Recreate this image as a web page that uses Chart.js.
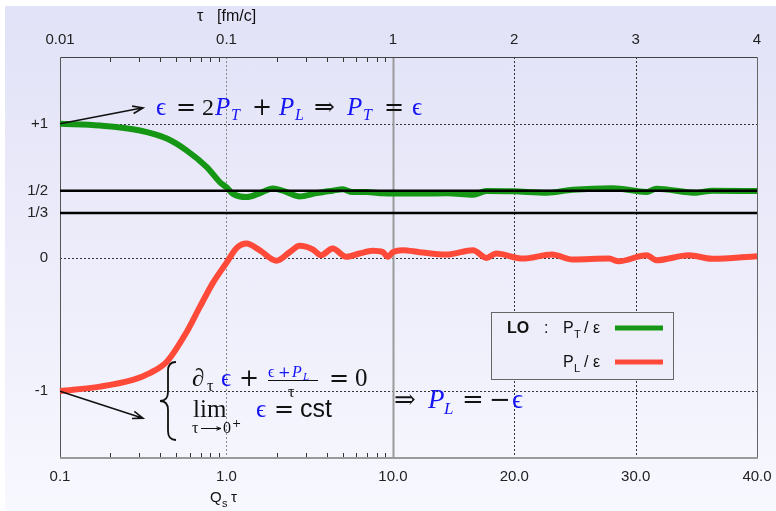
<!DOCTYPE html>
<html>
<head>
<meta charset="utf-8">
<script src="https://cdn.jsdelivr.net/npm/chart.js@4.4.1/dist/chart.umd.min.js"></script>
<style>
  html, body { margin: 0; padding: 0; background: #fff; }
  #wrap { position: relative; width: 776px; height: 511px; overflow: hidden; }
  #panel {
    position: absolute; left: 5px; top: 6px; right: 0; bottom: 0;
    background: linear-gradient(to bottom, #e2e2f8 0%, #ebebfa 45%, #f8f8ff 100%);
  }
  canvas { position: absolute; left: 0; top: 0; }
</style>
</head>
<body>
<div id="wrap">
  <div id="panel"></div>
  <canvas id="pressureChart" width="776" height="511"></canvas>
</div>
<script>
// --- DATA ---
// Q_s tau sample points and the pressure / energy ratios along each curve
const QT_TRANSVERSE = [0.1, 0.174, 0.302, 0.438, 0.578, 0.762, 0.912, 1.0, 1.09, 1.32, 1.58, 1.9, 2.3, 2.75, 3.47, 4.34, 5.0, 5.7, 6.9, 8.7, 10.0, 12.2, 14.5, 16.6, 17.7, 19.9, 22.7, 24.8, 28.1, 30.9, 31.7, 35.0, 36.3, 40.0];
const PT_OVER_E = [1.0, 0.987, 0.95, 0.89, 0.80, 0.676, 0.564, 0.525, 0.478, 0.452, 0.48, 0.517, 0.49, 0.457, 0.482, 0.50, 0.51, 0.49, 0.49, 0.48, 0.478, 0.478, 0.48, 0.47, 0.497, 0.495, 0.485, 0.507, 0.519, 0.49, 0.515, 0.485, 0.50, 0.497];

const QT_LONGITUDINAL = [0.1, 0.174, 0.274, 0.346, 0.438, 0.578, 0.692, 0.829, 1.0, 1.15, 1.32, 1.58, 2.0, 2.41, 2.75, 3.3, 3.7, 4.34, 5.26, 6.3, 7.55, 8.7, 9.3, 10.0, 10.8, 12.2, 14.4, 16.6, 17.7, 18.5, 20.7, 23.1, 24.8, 27.8, 28.6, 30.9, 31.7, 34.4, 36.3, 40.0];
const PL_OVER_E = [-1.0, -0.966, -0.916, -0.865, -0.78, -0.555, -0.37, -0.19, -0.04, 0.07, 0.104, 0.055, -0.025, 0.042, 0.087, 0.06, 0.017, 0.067, 0.005, 0.03, 0.05, 0.04, 0.005, 0.04, 0.055, 0.04, 0.022, 0.055, -0.003, 0.03, -0.008, 0.022, -0.015, -0.008, -0.028, 0.017, -0.02, 0.017, -0.01, 0.01];

// free streaming (1/2) and ideal hydro (1/3) levels
const REF_LEVELS = [1 / 2, 1 / 3];

const X_MIN = 0.1;
const X_MAX = 40;
const X_TICKS = [0.1, 1, 10, 20, 30, 40];
const X_TICK_LABELS = ["0.1", "1.0", "10.0", "20.0", "30.0", "40.0"];
const TAU_TICK_LABELS = ["0.01", "0.1", "1", "2", "3", "4"];
const X_MINOR_TICKS = [0.2, 0.3, 0.4, 0.5, 0.6, 0.7, 0.8, 0.9, 2, 3, 4, 5, 6, 7, 8, 9];
const Y_TICKS = [-1, 0, 1 / 3, 1 / 2, 1];
const Y_TICK_LABELS = ["-1", "0", "1/3", "1/2", "+1"];

// --- STYLE ---
const GREEN = "#159615";
const RED = "#ff4a3a";
const BLUE = "#1414f4";
const INK = "#111";
const SERIF = '"Liberation Serif", "DejaVu Serif", serif';
const DV = '"DejaVu Serif", serif';
const SANS = '"Liberation Sans", Arial, sans-serif';

// --- SPLIT AXIS: log up to 10, linear from 10 to 40 ---
const LOG_END = 10;
const LIN_PER_DECADE = 0.729; // width of 10 linear units relative to one decade

function axisUnit(q) {
  if (q <= LOG_END) return Math.log10(q / X_MIN);
  return Math.log10(LOG_END / X_MIN) + ((q - LOG_END) / 10) * LIN_PER_DECADE;
}

function unitToValue(u) {
  const logSpan = Math.log10(LOG_END / X_MIN);
  if (u <= logSpan) return X_MIN * Math.pow(10, u);
  return LOG_END + ((u - logSpan) / LIN_PER_DECADE) * 10;
}

class SplitLogScale extends Chart.LinearScale {
  static id = "splitlog";
  static defaults = {};

  determineDataLimits() {
    this.min = X_MIN;
    this.max = X_MAX;
  }

  buildTicks() {
    return X_TICKS.map((value) => ({ value }));
  }

  getPixelForValue(value) {
    return this.getPixelForDecimal(axisUnit(value) / axisUnit(this.max));
  }

  getValueForPixel(pixel) {
    return unitToValue(this.getDecimalForPixel(pixel) * axisUnit(this.max));
  }
}
Chart.register(SplitLogScale);

// --- HELPERS ---
function toPoints(xs, ys) {
  return xs.map((x, i) => ({ x, y: ys[i] }));
}

function strokeLine(ctx, x1, y1, x2, y2, color, width, dash) {
  ctx.save();
  ctx.strokeStyle = color;
  ctx.lineWidth = width;
  ctx.setLineDash(dash || []);
  ctx.beginPath();
  ctx.moveTo(x1, y1);
  ctx.lineTo(x2, y2);
  ctx.stroke();
  ctx.restore();
}

function drawText(ctx, parts) {
  ctx.save();
  ctx.textAlign = "left";
  ctx.textBaseline = "alphabetic";
  parts.forEach(([t, x, y, size, color, family = SERIF, style = ""]) => {
    ctx.font = `${style} ${size}px ${family}`;
    ctx.fillStyle = color;
    ctx.fillText(t, x, y);
  });
  ctx.restore();
}

function drawArrow(ctx, x1, y1, x2, y2, head = 11, width = 1.6) {
  const ang = Math.atan2(y2 - y1, x2 - x1);
  ctx.save();
  ctx.strokeStyle = INK;
  ctx.lineWidth = width;
  ctx.beginPath();
  ctx.moveTo(x1, y1);
  ctx.lineTo(x2, y2);
  ctx.moveTo(x2 - head * Math.cos(ang - 0.35), y2 - head * Math.sin(ang - 0.35));
  ctx.lineTo(x2, y2);
  ctx.lineTo(x2 - head * Math.cos(ang + 0.35), y2 - head * Math.sin(ang + 0.35));
  ctx.stroke();
  ctx.restore();
}

function drawBrace(ctx, xTip, xSpine, xCusp, top, bottom) {
  const mid = (top + bottom) / 2;
  const r = 9;
  ctx.save();
  ctx.strokeStyle = INK;
  ctx.lineWidth = 1.8;
  ctx.beginPath();
  ctx.moveTo(xTip, top);
  ctx.quadraticCurveTo(xSpine, top, xSpine, top + r);
  ctx.lineTo(xSpine, mid - r);
  ctx.quadraticCurveTo(xSpine, mid, xCusp, mid);
  ctx.quadraticCurveTo(xSpine, mid, xSpine, mid + r);
  ctx.lineTo(xSpine, bottom - r);
  ctx.quadraticCurveTo(xSpine, bottom, xTip, bottom);
  ctx.stroke();
  ctx.restore();
}

// --- PLUGINS ---
const frameAndGrid = {
  id: "frameAndGrid",
  beforeDatasetsDraw(chart) {
    const { ctx, chartArea: a, scales } = chart;
    const x = scales.x;
    const y = scales.y;

    // horizontal dotted grid on the numeric y ticks
    Y_TICKS.filter((v) => !REF_LEVELS.includes(v)).forEach((v) => {
      const py = Math.round(y.getPixelForValue(v)) + 0.5;
      strokeLine(ctx, a.left, py, a.right, py, "#333", 1, [2, 2]);
    });

    // vertical grid: 1.0 light, 10.0 marks the log/linear join, 20 and 30 dark
    X_TICKS.slice(1, -1).forEach((q) => {
      const px = Math.round(x.getPixelForValue(q)) + 0.5;
      if (q === 1) strokeLine(ctx, px, a.top, px, a.bottom, "#8a8a8a", 1, [2, 2]);
      else if (q === LOG_END) strokeLine(ctx, px, a.top, px, a.bottom, "#9a9a9a", 2);
      else strokeLine(ctx, px, a.top, px, a.bottom, "#333", 1, [2, 2]);
    });

    // minor ticks of the log part, on both horizontal edges
    X_MINOR_TICKS.forEach((q) => {
      const px = Math.round(x.getPixelForValue(q)) + 0.5;
      strokeLine(ctx, px, a.bottom, px, a.bottom - 5, "#333", 1);
      strokeLine(ctx, px, a.top, px, a.top + 5, "#333", 1);
    });

    // frame
    const l = Math.round(a.left) + 0.5;
    const r = Math.round(a.right) + 0.5;
    const t = Math.round(a.top) + 0.5;
    const b = Math.round(a.bottom);
    strokeLine(ctx, l, t, r, t, "#444", 1);
    strokeLine(ctx, l, t, l, b, "#555", 1);
    strokeLine(ctx, r, t, r, b, "#666", 1);
    strokeLine(ctx, a.left, b, a.right + 1, b, "#9a9a9a", 2);
  },
};

const annotations = {
  id: "annotations",
  afterDraw(chart) {
    const { ctx, scales } = chart;
    const x = scales.x;
    const y = scales.y;

    // arrows from the initial values
    const x0 = x.getPixelForValue(X_MIN);
    drawArrow(ctx, x0, y.getPixelForValue(1), x0 + 83, y.getPixelForValue(1) - 16);
    drawArrow(ctx, x0, y.getPixelForValue(-1), x0 + 83, y.getPixelForValue(-1) + 27);

    // ϵ = 2P_T + P_L ⇒ P_T = ϵ
    drawText(ctx, [
      ["ϵ", 156, 115, 25, BLUE],
      ["=", 176, 115, 24, INK, DV],
      ["2", 202, 115, 24, INK],
      ["P", 215, 115, 25, BLUE, SERIF, "italic"],
      ["T", 231, 120, 16, BLUE, SERIF, "italic"],
      ["+", 252, 115, 24, INK, DV],
      ["P", 279, 115, 25, BLUE, SERIF, "italic"],
      ["L", 295, 120, 16, BLUE, SERIF, "italic"],
      ["⇒", 314, 115, 25, INK, DV],
      ["P", 347, 115, 25, BLUE, SERIF, "italic"],
      ["T", 363, 120, 16, BLUE, SERIF, "italic"],
      ["=", 384, 115, 24, INK, DV],
      ["ϵ", 412, 115, 25, BLUE],
    ]);

    // early time system of equations
    drawBrace(ctx, 176, 168, 160, 362, 440);
    drawText(ctx, [
      ["∂", 192, 386, 25, INK],
      ["τ", 207, 391, 16, INK],
      ["ϵ", 221, 386, 25, BLUE],
      ["+", 239, 386, 24, INK, DV],
      ["ϵ", 268, 377, 16, BLUE],
      ["+", 278, 377, 15, BLUE, DV],
      ["P", 292, 377, 16, BLUE, SERIF, "italic"],
      ["L", 303, 380, 11, BLUE, SERIF, "italic"],
      ["τ", 288, 397, 16, INK],
      ["=", 329, 386, 24, INK, DV],
      ["0", 355, 386, 25, INK],
      ["lim", 193, 417, 25, INK],
      ["τ", 192, 433, 16, INK],
      ["0", 223, 433, 16, INK],
      ["+", 232, 427, 11, INK, DV],
      ["ϵ", 256, 417, 25, BLUE],
      ["=", 274, 417, 24, INK, DV],
      ["cst", 300, 417, 25, INK, SANS],
    ]);
    strokeLine(ctx, 268, 380.5, 318, 380.5, INK, 1);
    drawArrow(ctx, 201, 428.5, 221, 428.5, 5, 1);

    // ⇒ P_L = −ϵ
    drawText(ctx, [
      ["⇒", 394, 408, 26, INK, DV],
      ["P", 428, 408, 27, BLUE, SERIF, "italic"],
      ["L", 444, 414, 17, BLUE, SERIF, "italic"],
      ["=", 462, 408, 26, INK, DV],
      ["−", 489, 408, 26, INK, DV],
      ["ϵ", 512, 408, 27, BLUE],
    ]);

    // axis titles
    drawText(ctx, [
      ["τ", 197, 21, 16, INK, SANS],
      ["[fm/c]", 217, 21, 16, INK, SANS],
      ["Q", 210, 502, 15, INK, SANS],
      ["s", 222, 507, 11, INK, SANS],
      ["τ", 231, 502, 15, INK, SANS],
    ]);

    // legend box
    const box = { left: 491.5, top: 312.5, width: 182, height: 67 };
    ctx.save();
    ctx.fillStyle = "#eeeefb";
    ctx.strokeStyle = "#666";
    ctx.lineWidth = 1;
    ctx.fillRect(box.left, box.top, box.width, box.height);
    ctx.strokeRect(box.left, box.top, box.width, box.height);
    ctx.restore();

    drawText(ctx, [["LO", 507, 333, 16, INK, SANS, "bold"], [":", 544, 333, 16, INK, SANS]]);
    const rows = chart.data.datasets.filter((d) => d.legendSub);
    rows.forEach((d, i) => {
      const base = 333 + i * 34;
      drawText(ctx, [
        ["P", 563, base, 16, INK, SANS],
        [d.legendSub, 574, base + 5, 11, INK, SANS],
        ["/ ε", 584, base, 16, INK, SANS],
      ]);
      strokeLine(ctx, 615, base - 5, 663, base - 5, d.borderColor, 5);
    });
  },
};

// --- CHART ---
const refDatasets = REF_LEVELS.map((level) => ({
  label: "ref",
  data: [{ x: X_MIN, y: level }, { x: X_MAX, y: level }],
  borderColor: "#000",
  borderWidth: 2.5,
  pointRadius: 0,
}));

// horizontal axes keep a fixed height and no label overhang padding
function fitHorizontal(height) {
  return (scale) => {
    scale.height = height;
    scale.paddingLeft = 0;
    scale.paddingRight = 0;
  };
}

new Chart(document.getElementById("pressureChart"), {
  type: "line",
  data: {
    datasets: [
      ...refDatasets,
      {
        label: "P_T / ε",
        legendSub: "T",
        data: toPoints(QT_TRANSVERSE, PT_OVER_E),
        borderColor: GREEN,
        borderWidth: 6,
        pointRadius: 0,
        cubicInterpolationMode: "monotone",
      },
      {
        label: "P_L / ε",
        legendSub: "L",
        data: toPoints(QT_LONGITUDINAL, PL_OVER_E),
        borderColor: RED,
        borderWidth: 6,
        pointRadius: 0,
        cubicInterpolationMode: "monotone",
      },
    ],
  },
  options: {
    responsive: false,
    animation: false,
    layout: { padding: { left: 0, right: 19, top: 0, bottom: 0 } },
    plugins: { legend: { display: false }, tooltip: { enabled: false } },
    scales: {
      x: {
        type: "splitlog",
        position: "bottom",
        grid: { display: false, drawTicks: false },
        border: { display: false },
        afterFit: fitHorizontal(53),
        ticks: {
          autoSkip: false,
          maxRotation: 0,
          padding: 10,
          color: "#222",
          font: { family: "Liberation Sans", size: 15 },
          callback: (value, i) => X_TICK_LABELS[i],
        },
      },
      x2: {
        type: "splitlog",
        position: "top",
        grid: { display: false, drawTicks: false },
        border: { display: false },
        afterFit: fitHorizontal(57),
        ticks: {
          autoSkip: false,
          maxRotation: 0,
          padding: 8,
          color: "#222",
          font: { family: "Liberation Sans", size: 15 },
          callback: (value, i) => TAU_TICK_LABELS[i],
        },
      },
      y: {
        type: "linear",
        min: -1.5,
        max: 1.5,
        grid: { display: false, drawTicks: false },
        border: { display: false },
        afterFit: (scale) => { scale.width = 60; },
        afterBuildTicks: (scale) => { scale.ticks = Y_TICKS.map((value) => ({ value })); },
        ticks: {
          autoSkip: false,
          padding: 12,
          color: "#222",
          font: { family: "Liberation Sans", size: 15 },
          callback: (value, i) => Y_TICK_LABELS[i],
        },
      },
    },
  },
  plugins: [frameAndGrid, annotations],
});
</script>
</body>
</html>
